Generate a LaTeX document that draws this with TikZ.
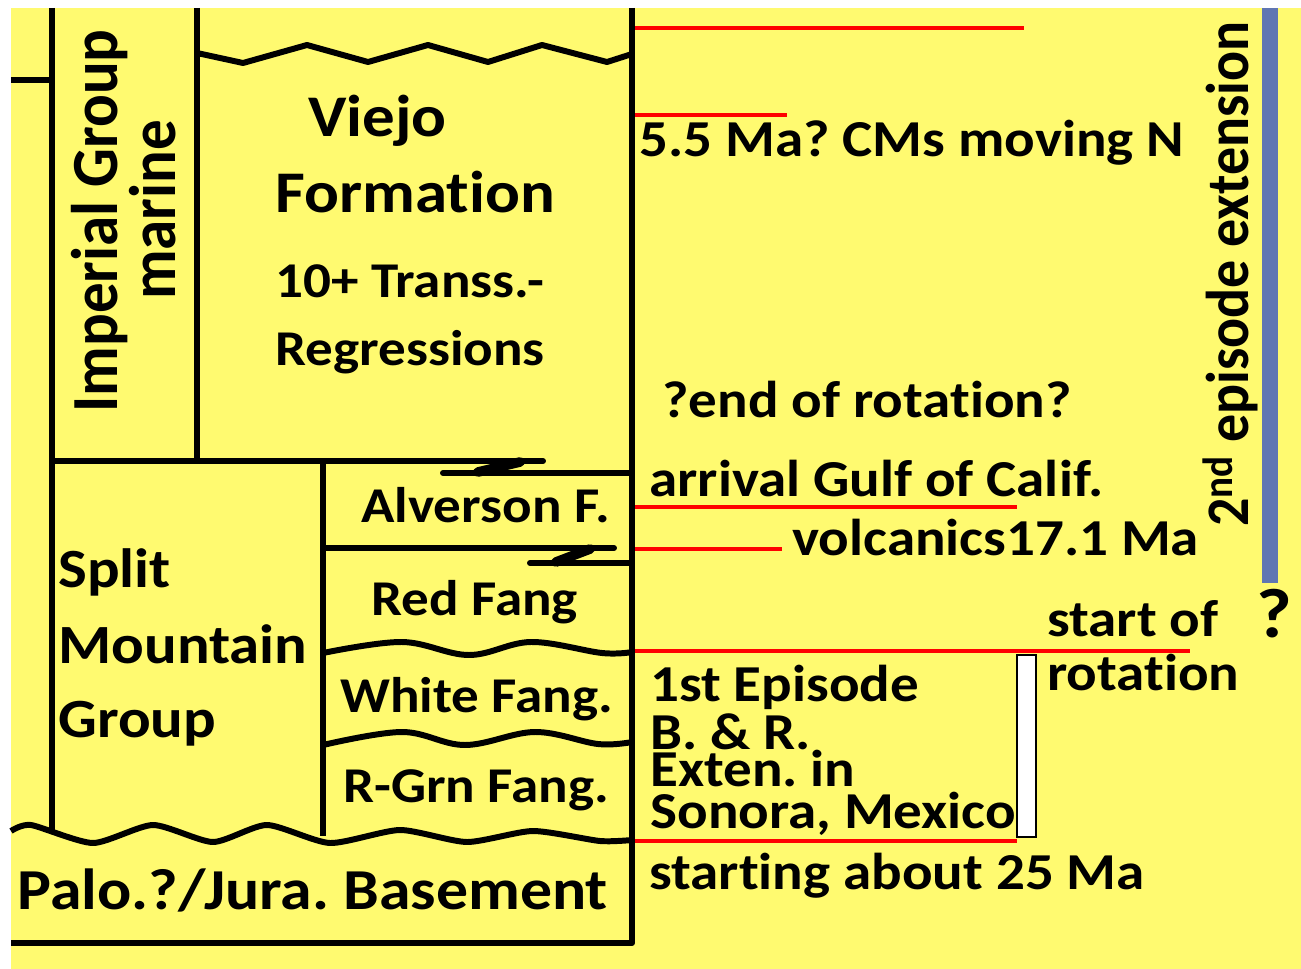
\documentclass[tikz,border=0pt]{standalone}
\usepackage{fontspec}
\setmainfont{Carlito}[FakeStretch=1.1, Ligatures=NoCommon]
\newfontfamily\rotfont{Carlito}[FakeStretch=0.926, Ligatures=NoCommon]
\usetikzlibrary{positioning}
\definecolor{chartyellow}{RGB}{255,250,112}
\definecolor{barblue}{RGB}{96,118,178}
\definecolor{markred}{RGB}{255,0,0}
\frenchspacing
\tikzset{
    contact/.style={line width=3.4pt, black, line join=round},
    finger/.style={contact, line cap=round},
    agemark/.style={line width=2.8pt, markred},
    bigname/.style={font=\fontsize{33.6pt}{36pt}\bfseries\selectfont, inner sep=0pt, anchor=base west},
    groupname/.style={font=\fontsize{31.5pt}{34pt}\bfseries\selectfont, inner sep=0pt, anchor=base west},
    unitname/.style={font=\fontsize{28.5pt}{30pt}\bfseries\selectfont, inner sep=0pt, anchor=base west},
    note/.style={font=\fontsize{29.5pt}{30pt}\bfseries\selectfont, inner sep=0pt, anchor=base west},
    sidename/.style={font=\rotfont\fontsize{37.5pt}{40pt}\bfseries\selectfont, inner sep=0pt, anchor=base, rotate=90},
    sidenote/.style={font=\rotfont\fontsize{34.4pt}{36pt}\bfseries\selectfont, inner sep=0pt, anchor=base, rotate=90},
}

\begin{document}
\begin{tikzpicture}[x=0.02cm, y=-0.02cm]
    \useasboundingbox (0,0) rectangle (1301,969);
    \fill[white] (0,0) rectangle (1301,969);
    \fill[chartyellow] (11,8) rectangle (1301,969);

    % Column frame
    \draw[contact] (11,80) -- (52,80);
    \draw[contact] (52,8) -- (52,834);
    \draw[contact] (197,8) -- (197,461);
    \draw[contact] (323,461) -- (323,836);
    \draw[contact] (632,8) -- (632,943) -- (11,943);

    % Interfingering contacts
    \draw[finger] (52,461) -- (543,461);
    \draw[finger] (443,473) -- (632,473);
    \draw[finger, line width=5.5pt] (520,462) -- (478,472);
    \draw[finger] (323,548) -- (614,548);
    \draw[finger] (530,563) -- (632,563);
    \draw[finger, line width=5.5pt] (590,549) -- (556,562);

    % Unconformities
    \draw[contact] (197,53) -- (243,63) -- (307,45) -- (368,62) -- (428,45)
        -- (488,62) -- (542,45) -- (607,62) -- (632,54);
    \draw[contact] plot[smooth, tension=0.6] coordinates
        {(323,653) (402,642) (469,655) (531,642) (602,653) (632,652)};
    \draw[contact] plot[smooth, tension=0.6] coordinates
        {(323,745) (402,732) (465,745) (535,732) (598,744) (632,742)};
    \draw[contact] plot[smooth, tension=0.4] coordinates
        {(11,831) (31,825) (93,843) (153,825) (213,842) (267,825) (330,843)
         (400,830) (467,842) (533,831) (600,841) (632,840)};

    % Units
    \node[sidename] (imperial) at (117,221) {Imperial Group};
    \node[sidename] (marine) at (175,210) {marine};
    \node[bigname] (viejo) at (308,137) {Viejo};
    \node[bigname] (formation) at (275,213) {Formation};
    \node[unitname] (transs) at (275,298) {10+ Transs.-};
    \node[unitname] (regress) at (275,365) {Regressions};
    \node[unitname] (alverson) at (361,522) {Alverson F.};
    \node[unitname] (redfang) at (371,615) {Red Fang};
    \node[unitname] (whitefang) at (340,712) {White Fang.};
    \node[unitname] (rgrnfang) at (343,802) {R-Grn Fang.};
    \foreach \y/\word in {587/Split, 663/Mountain, 737/Group} {
        \node[groupname] (split\word) at (58,\y) {\word};
    }
    \node[groupname, font=\fontsize{33pt}{34pt}\bfseries\selectfont] (basement) at (17,909) {Palo.?/Jura. Basement};

    % Age marks
    \foreach \y/\xend in {28/1024, 115/787, 507/1017, 549/782, 651/1190, 841/1017} {
        \draw[agemark] (635,\y) -- (\xend,\y);
    }
    \draw[black, line width=0.8pt, fill=white] (1017,655) rectangle (1036,837);
    \fill[barblue] (1262,8) rectangle (1278,583);

    % Events
    \node[note] (cms) at (639,157) {5.5 Ma? CMs moving N};
    \node[note] (endrot) at (662,418) {?end of rotation?};
    \node[note] (gulf) at (649,496) {arrival Gulf of Calif.};
    \node[note] (volc) at (792,555) {volcanics17.1 Ma};
    \node[note] (startrot) at (1047,636) {start of};
    \node[note] (rotation) at (1047,690) {rotation};
    \node[note, font=\fontsize{39.8pt}{40pt}\bfseries\selectfont] (qmark) at (1256,637) {?};
    \foreach \y/\line [count=\i] in {701/1st Episode, 749/B. \& R., 786/Exten. in, 828/{Sonora, Mexico}} {
        \node[note] (episode\i) at (650,\y) {\line};
    }
    \node[note] (start25) at (649,889) {starting about 25 Ma};
    \node[sidenote] (episode2) at (1248,274) {2\textsuperscript{nd} episode extension};
\end{tikzpicture}
\end{document}
